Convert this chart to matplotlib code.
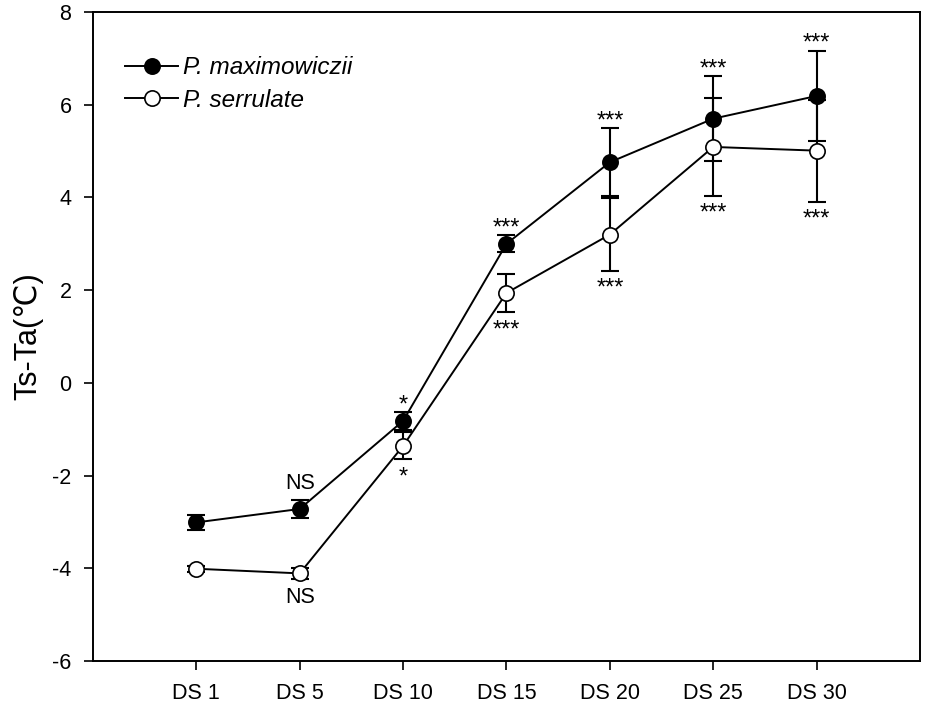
import numpy as np
import matplotlib.pyplot as plt

plt.rcParams['font.family'] = ['Liberation Sans', 'DejaVu Sans']
plt.rcParams['axes.unicode_minus'] = False

stages = ['DS 1', 'DS 5', 'DS 10', 'DS 15', 'DS 20', 'DS 25', 'DS 30']

maxim_mean = [-3.01, -2.72, -0.82, 3.00, 4.76, 5.70, 6.19]
maxim_err = [0.17, 0.19, 0.19, 0.18, 0.73, 0.92, 0.98]
serr_mean = [-4.01, -4.11, -1.36, 1.94, 3.20, 5.09, 5.01]
serr_err = [0.06, 0.12, 0.29, 0.41, 0.78, 1.05, 1.10]

maxim_sig = ['', 'NS', '*', '***', '***', '***', '***']
serr_sig = ['', 'NS', '*', '***', '***', '***', '***']

x = np.arange(1, len(stages) + 1)

fig = plt.figure(figsize=(9.25, 7.09), dpi=100)
ax = fig.add_axes([0.1005, 0.0677, 0.8941, 0.9153])

# error bars first, then lines with markers on top
ax.errorbar(x, maxim_mean, yerr=maxim_err, fmt='none', ecolor='black',
            elinewidth=1.5, capsize=6.5, capthick=1.5, zorder=2)
ax.errorbar(x, serr_mean, yerr=serr_err, fmt='none', ecolor='black',
            elinewidth=1.5, capsize=6.5, capthick=1.5, zorder=2)
ax.plot(x, maxim_mean, '-o', color='black', lw=1.4, ms=11,
        mfc='black', mec='black', mew=1.2, zorder=3, label='P. maximowiczii')
ax.plot(x, serr_mean, '-o', color='black', lw=1.4, ms=11,
        mfc='white', mec='black', mew=1.2, zorder=4, label='P. serrulate')

# significance marks: above for P. maximowiczii, below for P. serrulate
for xi, m, e, s in zip(x, maxim_mean, maxim_err, maxim_sig):
    if not s:
        continue
    off = 8.1 if s == 'NS' else 0.5
    fs = 15.5 if s == 'NS' else 17
    ax.annotate(s, xy=(xi, m + e), xytext=(0, off), textcoords='offset points',
                ha='center', va='baseline', fontsize=fs)
for xi, m, e, s in zip(x, serr_mean, serr_err, serr_sig):
    if not s:
        continue
    off = -17 if s == 'NS' else -17.5
    fs = 15.5 if s == 'NS' else 17
    ax.annotate(s, xy=(xi, m - e), xytext=(0, off), textcoords='offset points',
                ha='center', va='baseline', fontsize=fs)

ax.set_xlim(0, 8)
ax.set_ylim(-6, 8)
ax.set_xticks(x)
ax.set_xticklabels(stages)
ax.set_yticks(np.arange(-6, 9, 2))
ax.tick_params(direction='out', length=6.5, width=1.2, labelsize=15.5)
ax.tick_params(axis='y', pad=9)
ax.tick_params(axis='x', pad=9)
for sp in ax.spines.values():
    sp.set_linewidth(1.4)

ax.set_ylabel('Ts-Ta(℃)', fontsize=22, labelpad=6)

leg = ax.legend(loc='upper left', bbox_to_anchor=(0.027, 0.947), frameon=False,
                fontsize=17.5, handlelength=2.2, handletextpad=0.2,
                labelspacing=0.4, borderaxespad=0)
for t in leg.get_texts():
    t.set_fontstyle('italic')

fig.savefig('out.png', dpi=100)
